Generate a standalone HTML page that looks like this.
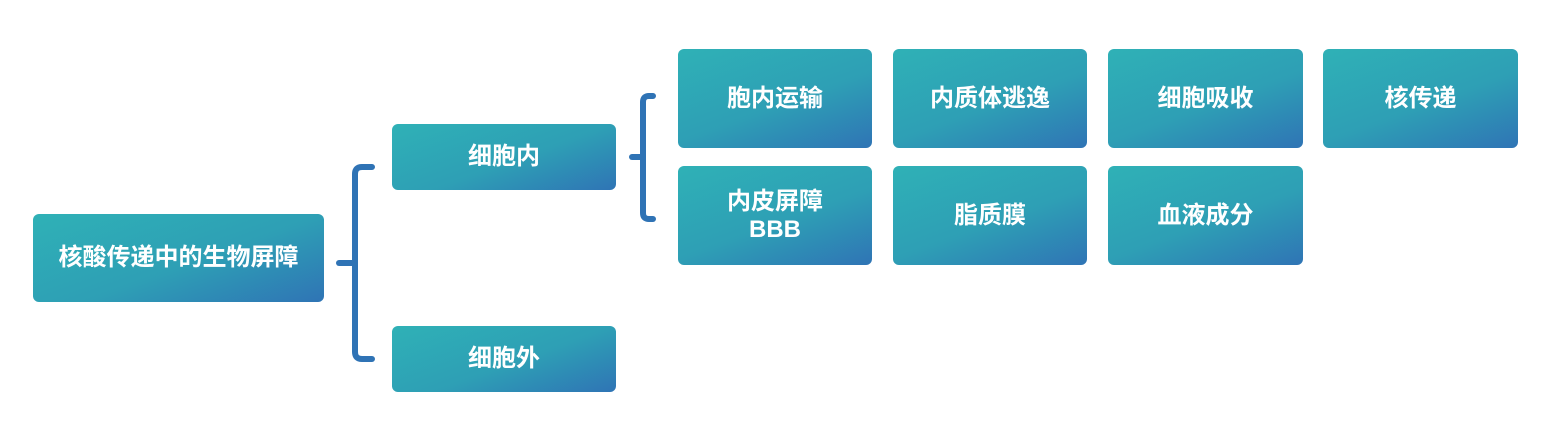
<!DOCTYPE html>
<html><head><meta charset="utf-8"><style>
body{margin:0;width:1549px;height:436px;background:#fff;position:relative;overflow:hidden;font-family:"Liberation Sans","Noto Sans CJK SC",sans-serif}
.b{position:absolute;border-radius:6px;background:linear-gradient(160deg,#2fb1b6 0%,#2e9fb5 55%,#2f74b5 100%);color:#fff;font-weight:bold;font-size:24px;display:flex;align-items:center;justify-content:center;text-align:center;line-height:1.15}
svg{position:absolute;left:0;top:0}
</style></head><body>
<svg width="1549" height="436"><g fill="none" stroke="#2f73b5" stroke-width="6" stroke-linecap="round" stroke-linejoin="round">
<path d="M372 167 H362 Q355 167 355 174 V352 Q355 359 362 359 H372"/>
<path d="M339 263 H355"/>
<path d="M653 96 H649 Q643 96 643 102 V213 Q643 219 649 219 H653"/>
<path d="M632 157 H643"/>
</g></svg>
<div class="b" style="left:33px;top:214px;width:291px;height:88px">核酸传递中的生物屏障</div>
<div class="b" style="left:392px;top:124px;width:224px;height:66px">细胞内</div>
<div class="b" style="left:392px;top:326px;width:224px;height:66px">细胞外</div>
<div class="b" style="left:678px;top:49px;width:194px;height:99px">胞内运输</div>
<div class="b" style="left:893px;top:49px;width:194px;height:99px">内质体逃逸</div>
<div class="b" style="left:1108px;top:49px;width:195px;height:99px">细胞吸收</div>
<div class="b" style="left:1323px;top:49px;width:195px;height:99px">核传递</div>
<div class="b" style="left:678px;top:166px;width:194px;height:99px">内皮屏障<br>BBB</div>
<div class="b" style="left:893px;top:166px;width:194px;height:99px">脂质膜</div>
<div class="b" style="left:1108px;top:166px;width:195px;height:99px">血液成分</div>
</body></html>
